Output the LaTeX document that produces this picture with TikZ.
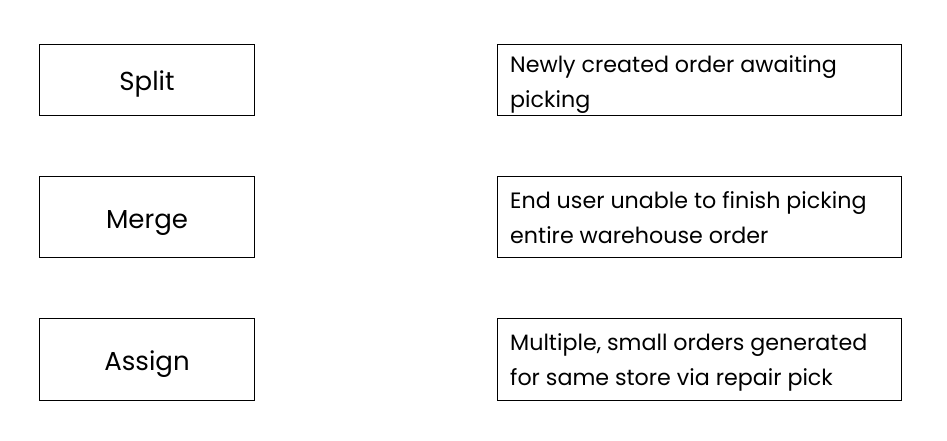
\documentclass[tikz,border=0pt]{standalone}
\usepackage{fontspec}
\setmainfont{Poppins}
\begin{document}
\begin{tikzpicture}[x=1pt,y=-1pt,
  box/.style={draw=black,line width=1pt,inner sep=0pt},
  lbl/.style={font=\fontsize{26}{30}\selectfont,inner sep=0pt,anchor=base},
  desc/.style={font=\fontsize{22.2}{35}\selectfont,align=left,anchor=base west,inner sep=0pt}]
\useasboundingbox[fill=white] (0,0) rectangle (947,440);
% left boxes
\node[box,minimum width=215pt,minimum height=71pt] (b1) at (146.5,80) {};
\node[box,minimum width=215pt,minimum height=81pt] (b2) at (146.5,216.5) {};
\node[box,minimum width=215pt,minimum height=82pt] (b3) at (146.5,359) {};
\node[lbl] (t1) at (147,90) {Split};
\node[lbl] (t2) at (147,228) {Merge};
\node[lbl] (t3) at (147,370) {Assign};
% right boxes
\node[box,minimum width=404pt,minimum height=71pt] (r1) at (699,80) {};
\node[box,minimum width=404pt,minimum height=81pt] (r2) at (699,216.5) {};
\node[box,minimum width=404pt,minimum height=82pt] (r3) at (699,359) {};
\node[desc] (d1) at (510,107) {Newly created order awaiting\\picking};
\node[desc] (d2) at (510,243) {End user unable to finish picking\\entire warehouse order};
\node[desc] (d3) at (510,385) {Multiple, small orders generated\\for same store via repair pick};
\end{tikzpicture}
\end{document}
